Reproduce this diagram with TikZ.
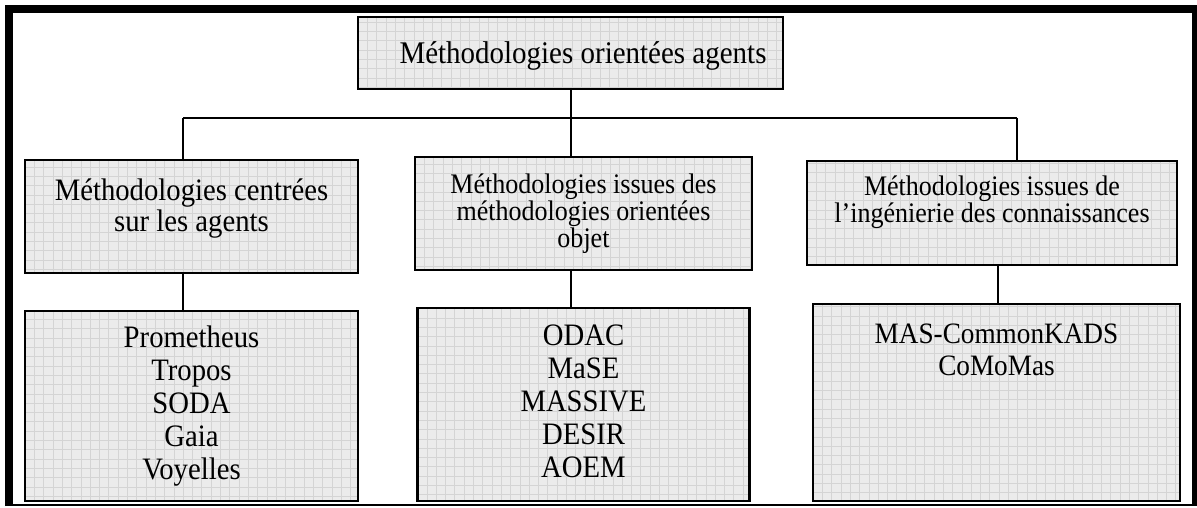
\documentclass[tikz,border=0pt]{standalone}
\usepackage{fontspec}
\setmainfont{Liberation Serif}[FakeStretch=0.92]
\usetikzlibrary{positioning}
\tikzset{
  meth/.style={draw=black, line width=2.2pt, fill=black!8, inner sep=0pt, rectangle,
    path picture={\draw[black!17, line width=0.5pt] (path picture bounding box.south west)
      grid[step=9.3pt] (path picture bounding box.north east);}},
  link/.style={draw=black, line width=2pt}
}
% box content: width, height, first baseline, lines
\newcommand{\boite}[4]{\parbox[c][#2][t]{#1}{\centering\rule{0pt}{#3}#4}}

\begin{document}
\begin{tikzpicture}[x=1pt, y=-1pt, node distance=36pt]
    \useasboundingbox (0,0) rectangle (1197,508);
    \draw[line width=8pt] (9,506) -- (9,9) -- (1196,9) -- (1196,506);
    \draw[line width=2.5pt] (5,505) -- (1197,505);

    \node[meth, font=\fontsize{31.5}{33}\selectfont] (top) at (570.5,53)
      {\boite{425pt}{72pt}{47pt}{\hspace*{25pt}Méthodologies orientées agents}};

    \node[meth, font=\fontsize{31.2}{31}\selectfont] (cl) at (191.5,216.5)
      {\boite{333pt}{113pt}{40pt}{Méthodologies centrées\\sur les agents}};
    \node[meth, font=\fontsize{28.3}{27}\selectfont] (cm) at (583.5,213.5)
      {\boite{337pt}{113pt}{36pt}{Méthodologies issues des\\méthodologies orientées\\objet}};
    \node[meth, font=\fontsize{28.3}{27}\selectfont] (cr) at (992,213)
      {\boite{370pt}{104pt}{34pt}{Méthodologies issues de\\l’ingénierie des connaissances}};

    \node[meth, font=\fontsize{31.2}{33}\selectfont, below=of cl] (ll)
      {\boite{333pt}{190pt}{36pt}{Prometheus\\Tropos\\SODA\\Gaia\\Voyelles}};
    \node[meth, font=\fontsize{31.2}{33}\selectfont, below=of cm] (ml)
      {\boite{332pt}{193pt}{37pt}{ODAC\\MaSE\\MASSIVE\\DESIR\\AOEM}};
    \node[meth, font=\fontsize{29.6}{32}\selectfont, below=37pt of cr, xshift=4.5pt] (rl)
      {\boite{367pt}{197pt}{39pt}{MAS-CommonKADS\\CoMoMas}};

    \coordinate (busl) at (183,118);
    \coordinate (busr) at (1017,118);

    \draw[link] (top.south) -- (top.south |- busl);
    \draw[link] (busl) -- (busr);
    \draw[link] (busl) -- (busl |- cl.north);
    \draw[link] (top.south |- busl) -- (cm.north -| top.south);
    \draw[link] (busr) -- (busr |- cr.north);

    \draw[link] (cl.south -| busl) -- (ll.north -| busl);
    \draw[link] (cm.south -| top.south) -- (ml.north -| top.south);
    \draw[link] ([xshift=6pt]cr.south) -- ([xshift=6pt]cr.south |- rl.north);
\end{tikzpicture}
\end{document}
